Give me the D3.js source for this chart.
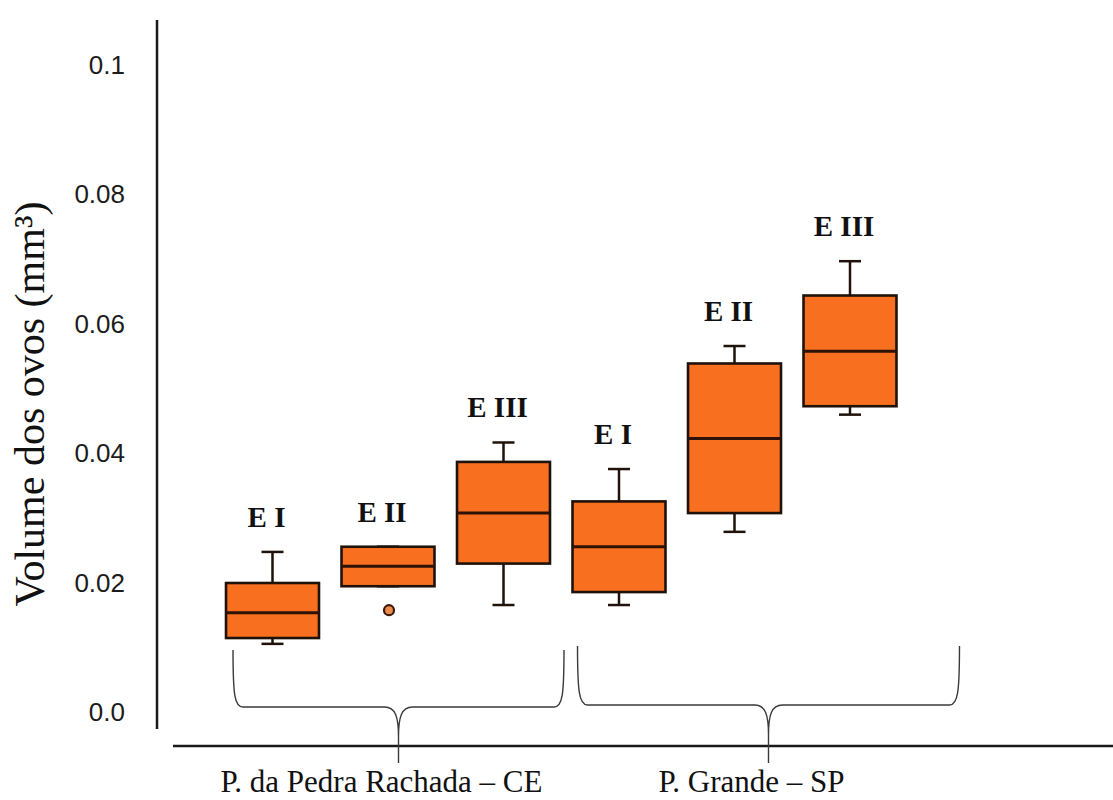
<!DOCTYPE html>
<html>
<head>
<meta charset="utf-8">
<script src="https://cdn.jsdelivr.net/npm/d3@7"></script>
<style>
  html, body { margin: 0; padding: 0; background: #fff; }
  svg { display: block; }
</style>
</head>
<body>
<div id="chart"></div>
<script>
// Egg volume per stage (E I – E III) at two sites, as box plots.
const groups = ["P. da Pedra Rachada – CE", "P. Grande – SP"];
const stages = ["E I", "E II", "E III", "E I", "E II", "E III"];
const groupOf = [0, 0, 0, 1, 1, 1];

const whiskerLow  = [0.0106, 0.0195, 0.0166, 0.0166, 0.0279, 0.0460];
const q1          = [0.0115, 0.0195, 0.0230, 0.0186, 0.0308, 0.0473];
const median      = [0.0154, 0.0226, 0.0308, 0.0256, 0.0423, 0.0558];
const q3          = [0.0200, 0.0256, 0.0387, 0.0326, 0.0539, 0.0644];
const whiskerHigh = [0.0248, 0.0256, 0.0417, 0.0376, 0.0566, 0.0697];

const outlierBox   = [1];
const outlierValue = [0.0158];

const yTicks      = [0, 0.02, 0.04, 0.06, 0.08, 0.1];
const yTickLabels = ["0.0", "0.02", "0.04", "0.06", "0.08", "0.1"];

const yTitle = "Volume dos ovos (mm³)";

const W = 1113, H = 800;
const svg = d3.select("#chart").append("svg")
  .attr("width", W).attr("height", H)
  .attr("viewBox", `0 0 ${W} ${H}`);

const idx = d3.range(stages.length);

const y = d3.scaleLinear().domain([0, 0.1]).range([712.5, 65]);
const x = d3.scaleBand().domain(idx)
  .range([214.75, 907.75])
  .paddingInner(0.195)
  .paddingOuter(0.0975);
const bw = x.bandwidth();
const cx = i => x(i) + bw / 2;

// Axis lines
const axisColor = "#1a1a1a";
svg.append("line")
  .attr("x1", 157).attr("x2", 157).attr("y1", 20).attr("y2", 729)
  .attr("stroke", axisColor).attr("stroke-width", 2.5);
svg.append("line")
  .attr("x1", 173).attr("x2", W).attr("y1", 746).attr("y2", 746)
  .attr("stroke", axisColor).attr("stroke-width", 2.5);

// Y tick labels
const yAxis = d3.axisLeft(y)
  .tickValues(yTicks)
  .tickSize(0)
  .tickPadding(32)
  .tickFormat((d, i) => yTickLabels[i]);
const gy = svg.append("g").attr("transform", "translate(157,0)").call(yAxis);
gy.select(".domain").remove();
gy.selectAll("text")
  .attr("font-family", "'Liberation Sans', Arial, sans-serif")
  .attr("font-size", 26)
  .attr("fill", "#1c1c1c");

// Y title
svg.append("text")
  .attr("transform", "translate(44,404) rotate(-90)")
  .attr("text-anchor", "middle")
  .attr("font-family", "'Liberation Serif', 'Times New Roman', serif")
  .attr("font-size", 42)
  .attr("fill", "#111")
  .text(yTitle);

// Boxes
const fill = "#f8701f";
const edge = "#1e120a";
const boxes = svg.append("g");

const g = boxes.selectAll("g.box").data(idx).join("g").attr("class", "box");

// whisker stems
g.append("line")
  .attr("x1", cx).attr("x2", cx)
  .attr("y1", i => y(whiskerHigh[i])).attr("y2", i => y(q3[i]))
  .attr("stroke", edge).attr("stroke-width", 2.5);
g.append("line")
  .attr("x1", cx).attr("x2", cx)
  .attr("y1", i => y(q1[i])).attr("y2", i => y(whiskerLow[i]))
  .attr("stroke", edge).attr("stroke-width", 2.5);
// whisker caps
g.append("line")
  .attr("x1", i => cx(i) - 11).attr("x2", i => cx(i) + 11)
  .attr("y1", i => y(whiskerHigh[i])).attr("y2", i => y(whiskerHigh[i]))
  .attr("stroke", edge).attr("stroke-width", 2.5);
g.append("line")
  .attr("x1", i => cx(i) - 11).attr("x2", i => cx(i) + 11)
  .attr("y1", i => y(whiskerLow[i])).attr("y2", i => y(whiskerLow[i]))
  .attr("stroke", edge).attr("stroke-width", 2.5);
// box
g.append("rect")
  .attr("x", i => x(i)).attr("width", bw)
  .attr("y", i => y(q3[i])).attr("height", i => y(q1[i]) - y(q3[i]))
  .attr("fill", fill).attr("stroke", edge).attr("stroke-width", 2.6);
// median
g.append("line")
  .attr("x1", i => x(i)).attr("x2", i => x(i) + bw)
  .attr("y1", i => y(median[i])).attr("y2", i => y(median[i]))
  .attr("stroke", "#2e1206").attr("stroke-width", 3);
// stage label
g.append("text")
  .attr("x", i => cx(i) - 6)
  .attr("y", i => y(whiskerHigh[i]) - 25)
  .attr("text-anchor", "middle")
  .attr("font-family", "'Liberation Serif', 'Times New Roman', serif")
  .attr("font-weight", "bold")
  .attr("font-size", 29)
  .attr("fill", "#111")
  .text(i => stages[i]);

// Outliers
svg.append("g").selectAll("circle").data(d3.range(outlierBox.length)).join("circle")
  .attr("cx", k => cx(outlierBox[k]) + 1)
  .attr("cy", k => y(outlierValue[k]))
  .attr("r", 5)
  .attr("fill", "#ec8a4c")
  .attr("stroke", "#3a1a0a")
  .attr("stroke-width", 2.2);

// Curly braces grouping the stages of each site
function bracePath(x0, x1, top, h, tipY) {
  const t = (x0 + x1) / 2;
  return [
    `M${x0},${top} C${x0},${top + 45} ${x0 + 1.5},${h} ${x0 + 10},${h}`,
    `L${t - 14},${h} C${t - 3},${h} ${t},${h + 10} ${t},${h + 30} L${t},${tipY}`,
    `M${t},${h + 30} C${t},${h + 10} ${t + 3},${h} ${t + 14},${h}`,
    `L${x1 - 10},${h} C${x1 - 1.5},${h} ${x1},${top + 45} ${x1},${top}`
  ].join(" ");
}
const braceSpec = [
  { first: 0, last: 2, left: 7, right: 14, top: 650, h: 707 },
  { first: 3, last: 5, left: 5, right: 63, top: 646, h: 705 }
];
groups.forEach((name, gi) => {
  const s = braceSpec[gi];
  const members = idx.filter(i => groupOf[i] === gi);
  const x0 = x(d3.min(members)) + s.left;
  const x1 = x(d3.max(members)) + bw + s.right;
  const tip = (x0 + x1) / 2;
  svg.append("path")
    .attr("d", bracePath(x0, x1, s.top, s.h, 763))
    .attr("fill", "none")
    .attr("stroke", "#3a3a3a")
    .attr("stroke-width", 1.4);
  svg.append("text")
    .attr("x", tip - 17).attr("y", 792)
    .attr("text-anchor", "middle")
    .attr("font-family", "'Liberation Serif', 'Times New Roman', serif")
    .attr("font-size", 31)
    .attr("fill", "#111")
    .text(name);
});
</script>
</body>
</html>
